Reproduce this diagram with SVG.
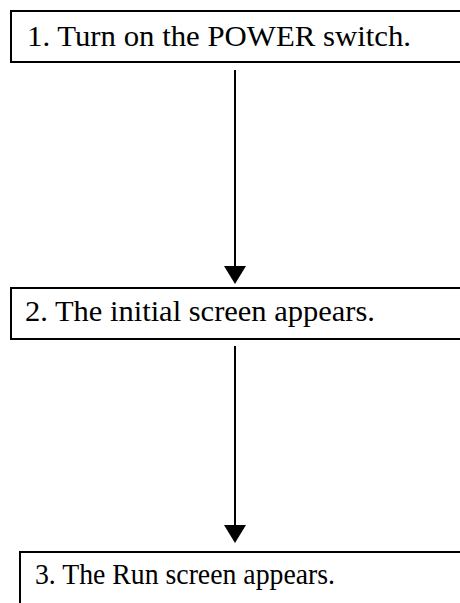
<svg xmlns="http://www.w3.org/2000/svg" width="460" height="603" viewBox="0 0 460 603">
<style>
.box{fill:#fff;stroke:#000;stroke-width:2}
.lbl{font-family:"Liberation Serif","Times New Roman",serif;font-size:29px;fill:#000}
.conn{stroke:#000;stroke-width:2;fill:none}
.head{fill:#000}
</style>
<rect width="460" height="603" fill="#fff"/>
<g id="connectors">
<line class="conn" x1="235" y1="70" x2="235" y2="268"/>
<path class="head" d="M224,266 L246,266 L235,284 Z"/>
<line class="conn" x1="235" y1="346" x2="235" y2="527"/>
<path class="head" d="M224,525 L246,525 L235,543 Z"/>
</g>
<g id="node1">
<rect class="box" x="11" y="11" width="470" height="51"/>
<text class="lbl" x="27" y="46" textLength="384" lengthAdjust="spacingAndGlyphs">1. Turn on the POWER switch.</text>
</g>
<g id="node2">
<rect class="box" x="11" y="288" width="470" height="51"/>
<text class="lbl" x="25" y="321" textLength="350" lengthAdjust="spacingAndGlyphs">2. The initial screen appears.</text>
</g>
<g id="node3">
<rect class="box" x="20" y="552" width="470" height="70"/>
<text class="lbl" x="35" y="584" textLength="300" lengthAdjust="spacingAndGlyphs">3. The Run screen appears.</text>
</g>
</svg>
